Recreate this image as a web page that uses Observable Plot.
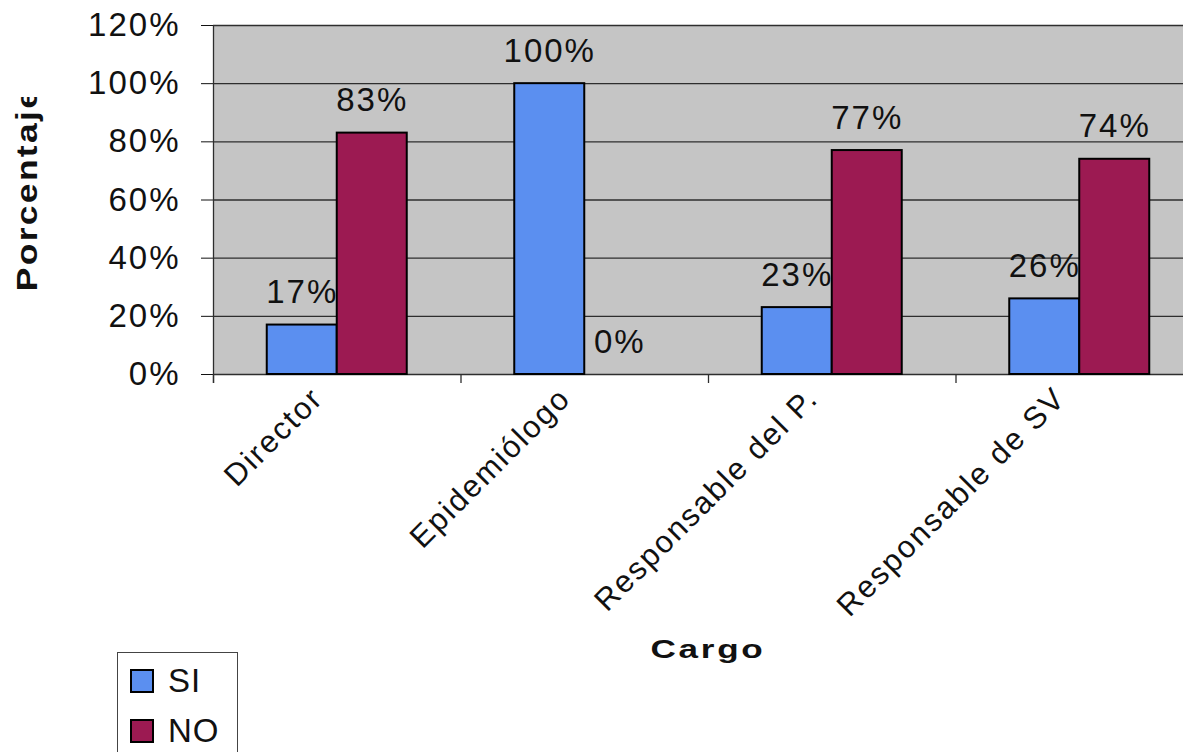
<!DOCTYPE html>
<html>
<head>
<meta charset="utf-8">
<script src="https://cdn.jsdelivr.net/npm/d3@7"></script>
<script src="https://cdn.jsdelivr.net/npm/@observablehq/plot@0.6"></script>
<style>
  html, body { margin: 0; padding: 0; background: #fff; }
  body {
    width: 1183px; height: 752px; overflow: hidden; position: relative;
    font-family: "Liberation Sans", Arial, sans-serif; color: #111;
  }
  #chart { position: absolute; left: 0; top: 0; }
  #ytitle { position: absolute; left: 0; top: 97px; width: 70px; height: 240px; overflow: hidden; }
  #ytitle span {
    position: absolute; left: 27px; top: 92px;
    transform: translate(-50%, -50%) rotate(-90deg) scaleX(1.18);
    white-space: nowrap; font-weight: bold; font-size: 30px; line-height: 30px; letter-spacing: 2px;
  }
  #xtitle {
    position: absolute; left: 708px; top: 636px; transform: translateX(-50%) scaleX(1.35);
    font-weight: bold; font-size: 26px; line-height: 26px; letter-spacing: 2px; white-space: nowrap;
  }
  #legend {
    position: absolute; left: 117px; top: 652px; width: 121px; height: 130px;
    box-sizing: border-box; border: 1.5px solid #444; background: #fff;
  }
  #legend .item {
    position: absolute; left: 12px; height: 40px; display: flex; align-items: center;
    font-size: 33px; letter-spacing: 1px;
  }
  #legend .sw { width: 20px; height: 20px; border: 2px solid #000; margin-right: 14px; }
</style>
</head>
<body>
<div id="chart"></div>
<div id="ytitle"><span>Porcentaje</span></div>
<div id="xtitle">Cargo</div>
<div id="legend"></div>
<script>
// Cargos (categories) and the share answering SI / NO for each one
const cargos = ["Director", "Epidemiólogo", "Responsable del P.", "Responsable de SV"];
const series = ["SI", "NO"];
const valoresSI = [17, 100, 23, 26];
const valoresNO = [83, 0, 77, 74];
const yTicks = [0, 20, 40, 60, 80, 100, 120];
const colores = ["#5b8ff0", "#9c1a52"];

const filasSI = cargos.map((c, i) => ({cargo: c, serie: series[0], valor: valoresSI[i]}));
const filasNO = cargos.map((c, i) => ({cargo: c, serie: series[1], valor: valoresNO[i]}));

// Frame geometry: the plot area runs past the right edge of the window
const width = 1203, height = 680;
const marginLeft = 213, marginTop = 25, marginBottom = 306, marginRight = 0;
const band = (width - marginLeft - marginRight) / cargos.length;
const barW = 70;
const gridColor = "#2e2e2e";
const fontFamily = '"Liberation Sans", Arial, sans-serif';

const chart = Plot.plot({
  width, height, marginLeft, marginTop, marginBottom, marginRight,
  style: {maxWidth: "none", fontFamily, fontSize: "33px", letterSpacing: "2px", color: "#111", background: "transparent"},
  x: {domain: cargos, padding: 0, round: false, axis: null},
  y: {
    domain: [0, 120], nice: false, ticks: yTicks, tickSize: 12, tickPadding: 21,
    tickFormat: d => d + "%", label: null
  },
  marks: [
    Plot.frame({fill: "#c5c5c5", stroke: "none"}),
    Plot.ruleY(yTicks, {stroke: gridColor, strokeWidth: 1.3}),
    // left axis line and the category separators below the baseline
    Plot.ruleX([cargos[0]], {x: d => d, dx: -band / 2, stroke: gridColor, strokeWidth: 1.3, insetBottom: -9}),
    Plot.ruleX(cargos, {x: d => d, dx: -band / 2, y1: 0, y2: 0, insetBottom: -9, stroke: gridColor, strokeWidth: 1.3}),
    Plot.barY(filasSI, {
      x: "cargo", y: "valor", fill: colores[0], stroke: "#000", strokeWidth: 2,
      insetLeft: band / 2 - barW, insetRight: band / 2
    }),
    Plot.barY(filasNO.filter(d => d.valor > 0), {
      x: "cargo", y: "valor", fill: colores[1], stroke: "#000", strokeWidth: 2,
      insetLeft: band / 2, insetRight: band / 2 - barW
    }),
    Plot.text(filasSI, {
      x: "cargo", y: "valor", text: d => d.valor + "%", dx: -barW / 2, dy: -22,
      lineAnchor: "bottom", fontSize: 33, fill: "#111"
    }),
    Plot.text(filasNO, {
      x: "cargo", y: "valor", text: d => d.valor + "%", dx: barW / 2, dy: -22,
      lineAnchor: "bottom", fontSize: 33, fill: "#111"
    }),
    // rotated category labels
    Plot.text(cargos, {
      x: d => d, frameAnchor: "bottom", text: d => d, rotate: -45,
      textAnchor: "end", lineAnchor: "top", dx: -28, dy: 10, fontSize: 31, fill: "#111"
    })
  ]
});
document.getElementById("chart").appendChild(chart);

// Legend
const legend = document.getElementById("legend");
series.forEach((s, i) => {
  const item = document.createElement("div");
  item.className = "item";
  item.style.top = (8 + i * 50) + "px";
  const sw = document.createElement("div");
  sw.className = "sw";
  sw.style.background = colores[i];
  const label = document.createElement("span");
  label.textContent = s;
  item.appendChild(sw);
  item.appendChild(label);
  legend.appendChild(item);
});
</script>
</body>
</html>
